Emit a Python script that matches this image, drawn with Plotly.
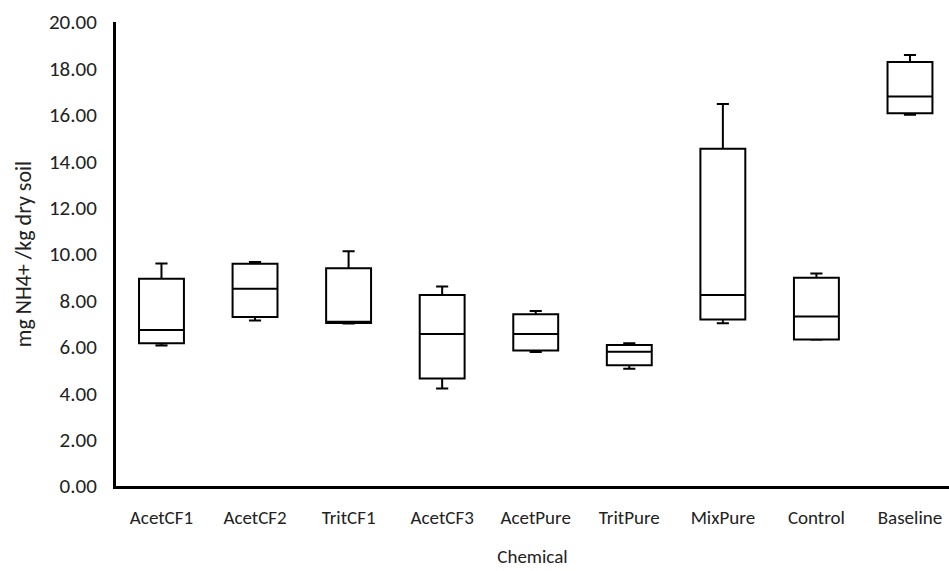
import plotly.graph_objects as go

# Box summaries per treatment (mg NH4+ / kg dry soil)
chemicals = ["AcetCF1", "AcetCF2", "TritCF1", "AcetCF3", "AcetPure",
             "TritPure", "MixPure", "Control", "Baseline"]
lower = [6.06, 7.13, 7.00, 4.20, 5.78, 5.05, 7.01, 6.30, 16.00]
q1 = [6.15, 7.28, 7.03, 4.63, 5.84, 5.20, 7.18, 6.32, 16.07]
median = [6.72, 8.50, 7.08, 6.55, 6.55, 5.79, 8.23, 7.31, 16.79]
q3 = [8.93, 9.58, 9.39, 8.23, 7.40, 6.08, 14.54, 8.98, 18.28]
upper = [9.59, 9.65, 10.12, 8.60, 7.54, 6.15, 16.47, 9.16, 18.58]

y_ticks = [0, 2, 4, 6, 8, 10, 12, 14, 16, 18, 20]

FONT = "Carlito, Lato, sans-serif"

fig = go.Figure()
fig.add_trace(go.Box(
    x=chemicals,
    lowerfence=lower,
    q1=q1,
    median=median,
    q3=q3,
    upperfence=upper,
    fillcolor="white",
    line=dict(color="black", width=2),
    width=0.48,
    whiskerwidth=0.27,
    boxpoints=False,
    hoverinfo="skip",
))

fig.update_layout(
    width=949,
    height=571,
    margin=dict(l=116, r=0, t=22, b=85),
    plot_bgcolor="white",
    paper_bgcolor="white",
    showlegend=False,
    font=dict(family=FONT, size=19, color="#222222"),
)

fig.update_xaxes(
    type="category",
    range=[-0.486, 8.417],
    showline=True,
    linecolor="black",
    linewidth=3,
    showgrid=False,
    ticks="",
    tickfont=dict(size=19),
    ticklabelstandoff=12,
    title=dict(text="Chemical", font=dict(size=19), standoff=22),
)

fig.update_yaxes(
    range=[0, 20],
    tickvals=y_ticks,
    tickformat=".2f",
    showline=True,
    linecolor="black",
    linewidth=3,
    showgrid=False,
    zeroline=False,
    ticks="",
    tickfont=dict(size=21),
    ticklabelstandoff=12,
    title=dict(text="mg NH4+ /kg dry soil", font=dict(size=22), standoff=12),
)

fig.write_html("out.html")
